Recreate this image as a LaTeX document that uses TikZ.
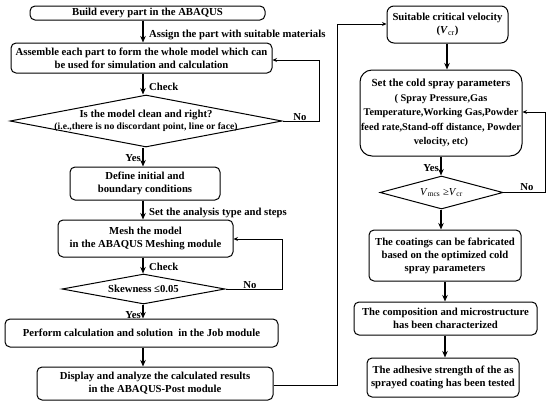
\documentclass[tikz,border=0pt]{standalone}
\usepackage{fontspec}
\setmainfont{Liberation Serif}
\usetikzlibrary{shapes.geometric,arrows.meta}
\newcommand{\fsz}[2]{\fontsize{#1}{#2}\selectfont}
\begin{document}
\begin{tikzpicture}[x=1pt,y=-1pt,
  box/.style={draw,rounded corners=5pt,line width=1pt,inner sep=0pt,align=center,font=\fsz{10.7}{13}\bfseries},
  dia/.style={draw,diamond,line width=1pt,inner sep=0pt},
  lbl/.style={inner sep=0pt,font=\fsz{10.7}{13}\bfseries},
  arr/.style={line width=1.5pt,-{Stealth[length=6.5pt,width=5.5pt]}},
  loop/.style={line width=1pt,-{Stealth[length=4.5pt,width=4pt]}}]
\useasboundingbox (0,0) rectangle (550,408);
\fill[white] (0,0) rectangle (550,408);
% left column
\node[box,minimum width=235,minimum height=14] (b1) at (147.5,13) {Build every part in the ABAQUS};
\node[box,minimum width=261,minimum height=30] (b2) at (141.5,58) {Assemble each part to form the whole model which can\\be used for simulation and calculation};
\node[dia,minimum width=272,minimum height=52] (d1) at (146,121) {};
\node[lbl,align=center] (t1) at (146,121) {Is the model clean and right?\\[-1pt]{\fsz{9.6}{12}(i.e.,there is no discordant point, line or face)}};
\node[box,minimum width=150,minimum height=33] (b3) at (145,183.5) {Define initial and\\boundary conditions};
\node[box,minimum width=175,minimum height=37] (b4) at (145.5,238.5) {Mesh the model\\in the ABAQUS Meshing module};
\node[dia,minimum width=163,minimum height=30] (d2) at (143.5,289) {};
\node[lbl] (t2) at (143.5,289) {Skewness ≤0.05};
\node[box,minimum width=273,minimum height=28] (b5) at (141.5,333) {Perform calculation and solution \ in the Job module};
\node[box,minimum width=236,minimum height=33] (b6) at (155,383.5) {Display and analyze the calculated results\\in the ABAQUS-Post module};
% right column
\node[box,rounded corners=7pt,minimum width=121,minimum height=37] (b7) at (447.5,24.5) {Suitable critical velocity\\(\textit{V}\textsubscript{\fsz{8}{9}\mdseries cr})};
\node[box,rounded corners=12pt,minimum width=162,minimum height=86,font=\fsz{10.3}{14.5}\bfseries] (b8) at (441,113) {{\fsz{10.9}{16}Set the cold spray parameters}\\( Spray Pressure,Gas\\Temperature,Working Gas,Powder\\feed rate,Stand-off distance, Powder\\velocity, etc)};
\node[dia,minimum width=123,minimum height=33] (d3) at (441.5,192.5) {};
\node[inner sep=0pt,font=\fsz{10.7}{13}] (t3) at (441.5,192.5) {\textit{V}\textsubscript{mcs} ≥\textit{V}\textsubscript{cr}};
\node[box,minimum width=152,minimum height=51] (b9) at (445,255.5) {The coatings can be fabricated\\based on the optimized cold\\spray parameters};
\node[box,minimum width=183,minimum height=33] (b10) at (445.5,318.5) {The composition and microstructure\\has been characterized};
\node[box,minimum width=152,minimum height=39] (b11) at (443,377.5) {The adhesive strength of the as\\sprayed coating has been tested};
% axis coordinates
\coordinate (xl) at (143,0);
\coordinate (xr1) at (447,0);
\coordinate (xr2) at (441,0);
\coordinate (xr3) at (445,0);
% left arrows
\draw[arr] (b1.south -| xl) -- (b2.north -| xl);
\draw[arr] (b2.south -| xl) -- (d1.north -| xl);
\draw[arr] (d1.south -| xl) -- (b3.north -| xl);
\draw[arr] (b3.south -| xl) -- (b4.north -| xl);
\draw[arr] (b4.south -| xl) -- (d2.north -| xl);
\draw[arr] (d2.south -| xl) -- (b5.north -| xl);
\draw[arr] (b5.south -| xl) -- (b6.north -| xl);
% right arrows
\draw[arr] (b7.south -| xr1) -- (b8.north -| xr1);
\draw[arr] (b8.south -| xr2) -- (d3.north -| xr2);
\draw[arr] (d3.south -| xr2) -- (b9.north -| xr2);
\draw[arr] (b9.south -| xr3) -- (b10.north -| xr3);
\draw[arr] (b10.south -| xr3) -- (b11.north -| xr3);
% loops
\coordinate (c1) at (319,121);
\coordinate (c2) at (319,60);
\draw[loop] (d1.east) -- (c1) -- (c2) -- (c2 -| b2.east);
\coordinate (c3) at (282,289);
\coordinate (c4) at (282,239);
\draw[loop] (d2.east) -- (c3) -- (c4) -- (c4 -| b4.east);
\coordinate (c5) at (337,385);
\coordinate (c6) at (337,24);
\draw[loop] (c5 -| b6.east) -- (c5) -- (c6) -- (c6 -| b7.west);
\coordinate (c7) at (545,192.5);
\coordinate (c8) at (545,112);
\draw[loop] (d3.east) -- (c7) -- (c8) -- (c8 -| b8.east);
% labels
\node[lbl,anchor=base west] (l1) at (149,37) {Assign the part with suitable materials};
\node[lbl,anchor=base west] (l2) at (149,90) {Check};
\node[lbl,anchor=base] (l3) at (300,120) {No};
\node[lbl,anchor=base east] (l4) at (141,161) {Yes};
\node[lbl,anchor=base west] (l5) at (149,215) {Set the analysis type and steps};
\node[lbl,anchor=base west] (l6) at (149,270) {Check};
\node[lbl,anchor=base] (l7) at (250,288) {No};
\node[lbl,anchor=base east] (l8) at (141,318) {Yes};
\node[lbl,anchor=base east] (l9) at (439,171) {Yes};
\node[lbl,anchor=base] (l10) at (527,190) {No};
\end{tikzpicture}
\end{document}
